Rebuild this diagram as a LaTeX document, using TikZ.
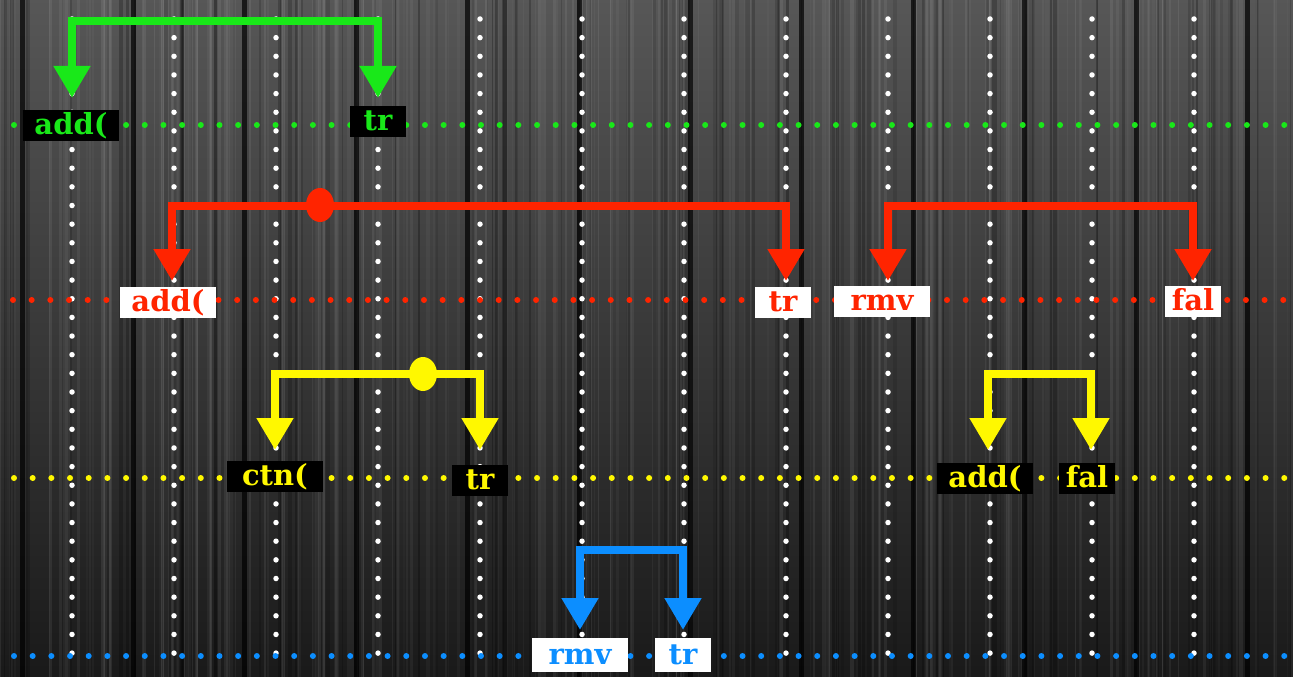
\documentclass[tikz,border=0pt]{standalone}
\usepackage{fontspec}
\newfontfamily\lblfont{DejaVu Serif}[BoldFont={DejaVu Serif Bold}]
\usetikzlibrary{arrows.meta}
\definecolor{cgreen}{RGB}{25,232,25}
\definecolor{cred}{RGB}{255,36,0}
\definecolor{cyellow}{RGB}{255,248,0}
\definecolor{cblue}{RGB}{12,142,255}
\tikzset{
  lbl/.style={inner sep=0pt, minimum height=31pt, text height=20pt, text depth=2pt, font=\lblfont\bfseries\fontsize{29}{30}\selectfont},
  wide/.style={minimum width=96pt},
  narrow/.style={minimum width=56pt},
  gbox/.style={lbl, fill=black, text=cgreen},
  rbox/.style={lbl, fill=white, text=cred},
  ybox/.style={lbl, fill=black, text=cyellow},
  bbox/.style={lbl, fill=white, text=cblue, minimum height=34pt},
  bracket/.style={line width=8pt, {Triangle[width=35pt,length=32pt]}-{Triangle[width=35pt,length=32pt]}},
  hdots/.style={line width=6pt, line cap=round, dash pattern=on 0pt off 18.68pt},
  vdots/.style={white, line width=5.5pt, line cap=round, dash pattern=on 0pt off 18.65pt},
}
\begin{document}
\begin{tikzpicture}[x=1pt,y=-1pt]
\useasboundingbox (0,0) rectangle (1293,677);
% wooden background
\shade[top color=black!66, bottom color=black!90] (0,0) rectangle (1293,677);
\pgfmathsetseed{7}
\foreach \i in {1,...,220}{
  \pgfmathsetmacro{\xx}{rnd*1293}
  \pgfmathsetmacro{\ww}{0.8+rnd*3}
  \pgfmathsetmacro{\op}{0.02+rnd*0.06}
  \fill[white, opacity=\op] (\xx,0) rectangle ++(\ww,677);
}
\foreach \i in {1,...,100}{
  \pgfmathsetmacro{\xx}{rnd*1293}
  \pgfmathsetmacro{\ww}{1+rnd*4}
  \pgfmathsetmacro{\op}{0.08+rnd*0.2}
  \fill[black, opacity=\op] (\xx,0) rectangle ++(\ww,677);
}
\foreach \k in {0,...,11}{
  \fill[black, opacity=0.7] (22+111.4*\k-2.5,0) rectangle ++(5,677);
}
% white vertical dotted guides
\foreach \k in {0,...,12}{
  \draw[vdots] (72+102*\k,19) -- (72+102*\k,660);
}
% coloured horizontal dotted lines
\draw[hdots, cgreen] (14,125) -- (1300,125);
\draw[hdots, cred] (13,300) -- (1300,300);
\draw[hdots, cyellow] (14,478) -- (1300,478);
\draw[hdots, cblue] (14,656) -- (1300,656);
% level coordinates
\coordinate (gtop) at (0,21);  \coordinate (gtip) at (0,98);
\coordinate (rtop) at (0,206); \coordinate (rtip) at (0,281);
\coordinate (ytop) at (0,374); \coordinate (ytip) at (0,450);
\coordinate (btop) at (0,550); \coordinate (btip) at (0,630);
% labels
\node[gbox, wide]   (ga) at (71,125)  {add(};
\node[gbox, narrow] (gb) at (378,121) {tr};
\node[rbox, wide]   (ra) at (168,302) {add(};
\node[rbox, narrow] (rb) at (783,302) {tr};
\node[rbox, wide]   (rc) at (882,301) {rmv};
\node[rbox, narrow] (rd) at (1193,301) {fal};
\node[ybox, wide]   (ya) at (275,476) {ctn(};
\node[ybox, narrow] (yb) at (480,480) {tr};
\node[ybox, wide]   (yc) at (985,478) {add(};
\node[ybox, narrow] (yd) at (1087,478) {fal};
\node[bbox, wide]   (ba) at (580,655) {rmv};
\node[bbox, narrow] (bb) at (683,655) {tr};
% brackets
\draw[bracket, cgreen] ([xshift=1pt]ga.north |- gtip) -- ([xshift=1pt]ga.north |- gtop) -- (gb.north |- gtop) -- (gb.north |- gtip);
\draw[bracket, cred] ([xshift=4pt]ra.north |- rtip) -- ([xshift=4pt]ra.north |- rtop) -- ([xshift=3pt]rb.north |- rtop) -- ([xshift=3pt]rb.north |- rtip);
\draw[bracket, cred] ([xshift=6pt]rc.north |- rtip) -- ([xshift=6pt]rc.north |- rtop) -- (rd.north |- rtop) -- (rd.north |- rtip);
\draw[bracket, cyellow] (ya.north |- ytip) -- (ya.north |- ytop) -- (yb.north |- ytop) -- (yb.north |- ytip);
\draw[bracket, cyellow] ([xshift=3pt]yc.north |- ytip) -- ([xshift=3pt]yc.north |- ytop) -- ([xshift=4pt]yd.north |- ytop) -- ([xshift=4pt]yd.north |- ytip);
\draw[bracket, cblue] (ba.north |- btip) -- (ba.north |- btop) -- (bb.north |- btop) -- (bb.north |- btip);
% junction dots
\fill[cred] (320,205) ellipse [x radius=14pt, y radius=17pt];
\fill[cyellow] (423,374) ellipse [x radius=14pt, y radius=17pt];
\end{tikzpicture}
\end{document}
